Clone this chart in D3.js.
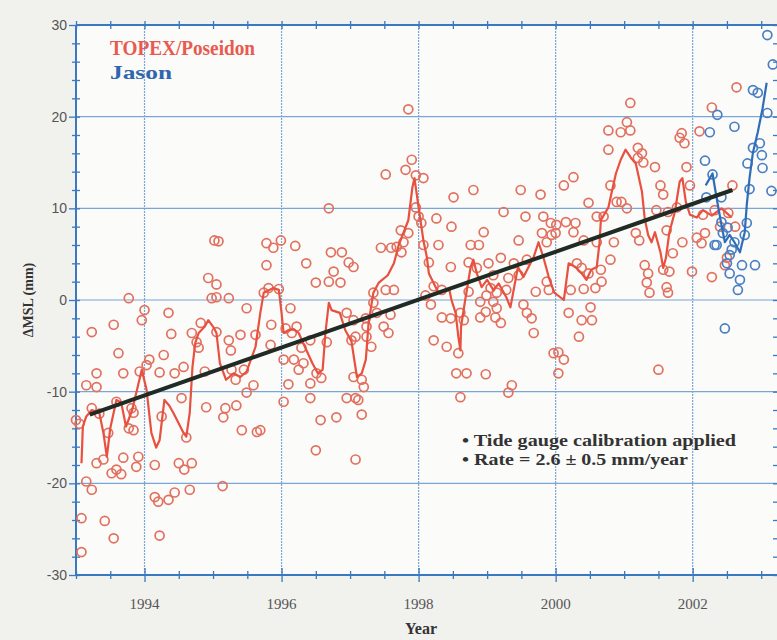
<!DOCTYPE html>
<html>
<head>
<meta charset="utf-8">
<script src="https://cdnjs.cloudflare.com/ajax/libs/d3/7.8.5/d3.min.js"></script>
<style>
  body { margin: 0; background: #f1f1ee; }
  svg { display: block; }
</style>
</head>
<body>
<div id="chart"></div>
<script>
// ---- data: [year, mm] ----
var topexPoints = [
  [1993.00,-13.1],[1993.05,-13.5],[1993.08,-23.8],[1993.08,-27.5],[1993.15,-9.3],[1993.15,-19.8],[1993.23,-11.8],[1993.23,-20.7],
  [1993.23,-3.5],[1993.30,-8.0],[1993.30,-9.5],[1993.30,-17.8],[1993.34,-12.4],[1993.40,-17.4],[1993.42,-24.1],[1993.47,-14.5],
  [1993.52,-18.9],[1993.55,-2.7],[1993.55,-26.0],[1993.59,-11.1],[1993.59,-18.5],[1993.62,-5.8],[1993.66,-19.0],[1993.69,-8.0],
  [1993.69,-17.2],[1993.77,0.2],[1993.77,-14.0],[1993.81,-11.8],[1993.84,-12.3],[1993.84,-14.2],[1993.88,-18.2],[1993.91,-17.1],
  [1993.93,-7.8],[1993.96,-2.2],
  [1994.00,-1.1],[1994.03,-7.1],[1994.07,-6.5],[1994.15,-18.0],[1994.15,-21.5],[1994.20,-22.0],[1994.22,-7.9],[1994.22,-25.7],
  [1994.25,-12.7],[1994.28,-6.0],[1994.35,-1.4],[1994.35,-21.8],[1994.39,-3.7],[1994.44,-8.0],[1994.44,-21.0],[1994.50,-17.8],
  [1994.54,-10.7],[1994.57,-7.3],[1994.58,-18.5],[1994.61,-15.0],[1994.66,-20.7],[1994.69,-3.6],[1994.69,-17.8],[1994.76,-4.6],
  [1994.79,-5.2],[1994.82,-2.5],[1994.88,-7.8],[1994.90,-11.7],[1994.93,2.4],[1994.98,0.2],
  [1995.02,6.5],[1995.05,1.7],[1995.05,0.3],[1995.05,-3.5],[1995.08,6.4],[1995.14,-20.3],[1995.15,-12.8],[1995.18,-11.8],
  [1995.23,0.2],[1995.23,-4.4],[1995.26,-5.5],[1995.27,-7.6],[1995.33,-8.7],[1995.34,-11.5],[1995.40,-3.8],[1995.42,-14.2],
  [1995.45,-7.6],[1995.49,-0.9],[1995.49,-10.1],[1995.59,-9.3],[1995.62,-3.8],[1995.64,-14.4],[1995.69,-14.2],[1995.74,0.8],
  [1995.78,6.2],[1995.78,3.8],[1995.81,1.3],[1995.84,-4.9],[1995.85,-2.7],[1995.88,5.7],[1995.96,1.2],[1995.99,6.5],
  [1996.03,-6.5],[1996.03,-11.1],[1996.06,-3.1],[1996.10,-9.2],[1996.13,-0.9],[1996.15,-3.6],[1996.18,-6.5],[1996.20,5.9],
  [1996.22,-2.9],[1996.25,-7.6],[1996.29,-5.2],[1996.32,-6.9],[1996.36,4.0],[1996.42,-4.4],[1996.42,-9.1],[1996.42,-10.7],
  [1996.50,1.9],[1996.50,-16.4],[1996.51,-8.0],[1996.57,-13.1],[1996.58,-8.5],[1996.66,-4.6],[1996.69,10.0],[1996.69,2.0],
  [1996.72,5.2],[1996.76,3.1],[1996.80,-12.8],[1996.86,1.9],[1996.88,5.2],[1996.95,-10.7],[1996.95,-1.4],[1996.98,4.1],
  [1997.02,-4.4],
  [1997.05,3.6],[1997.05,-2.2],[1997.05,-8.4],[1997.08,-4.0],[1997.08,-10.7],[1997.08,-17.4],[1997.12,-10.9],[1997.17,-8.7],
  [1997.17,-12.5],[1997.20,-9.5],[1997.23,-2.0],[1997.24,-2.9],[1997.24,-4.0],[1997.31,-5.1],[1997.34,0.8],[1997.34,-0.3],
  [1997.39,-1.4],[1997.45,5.7],[1997.49,-2.9],[1997.52,13.7],[1997.52,1.1],[1997.56,-3.6],[1997.59,-1.6],[1997.60,5.7],
  [1997.64,1.1],[1997.68,5.8],[1997.74,7.6],[1997.75,5.2],[1997.78,6.3],[1997.81,14.2],[1997.85,20.8],[1997.85,7.3],
  [1997.90,15.3],[1997.96,13.6],[1997.96,10.1],
  [1998.00,9.1],[1998.04,8.4],[1998.07,13.3],[1998.07,6.0],[1998.10,0.5],[1998.15,4.1],[1998.18,-0.5],[1998.22,1.5],
  [1998.22,-4.4],[1998.26,8.9],[1998.29,6.0],[1998.34,1.1],[1998.34,-1.9],[1998.41,-5.1],[1998.47,3.6],[1998.47,-2.0],
  [1998.48,8.0],[1998.51,11.2],[1998.55,-8.0],[1998.58,-5.8],[1998.61,-1.4],[1998.61,-10.6],[1998.66,-2.2],[1998.70,-8.0],
  [1998.73,4.1],[1998.73,0.9],[1998.76,6.0],[1998.80,12.0],[1998.85,3.5],[1998.88,6.0],[1998.90,-0.2],[1998.90,-1.9],
  [1998.95,7.4],[1998.98,-8.1],[1998.98,-1.3],[1998.99,0.5],
  [1999.02,4.0],[1999.05,1.3],[1999.09,-0.2],[1999.09,2.7],[1999.12,-1.9],[1999.14,0.8],[1999.14,-0.9],[1999.20,4.6],
  [1999.20,-2.5],[1999.24,9.6],[1999.28,1.1],[1999.31,2.4],[1999.31,-10.1],[1999.36,-9.3],[1999.39,4.0],[1999.46,2.7],
  [1999.46,6.5],[1999.49,12.0],[1999.53,-0.5],[1999.56,9.1],[1999.58,4.4],[1999.58,-1.4],[1999.65,-2.0],[1999.68,-3.6],
  [1999.71,0.9],[1999.78,11.5],[1999.80,7.3],[1999.82,9.1],[1999.87,2.0],[1999.87,6.3],[1999.90,1.1],[1999.93,8.4],
  [1999.94,7.1],[1999.97,-5.8],
  [2000.00,7.3],[2000.01,8.2],[2000.04,-5.7],[2000.04,-8.0],[2000.12,12.5],[2000.12,-6.5],[2000.15,8.5],[2000.19,-1.4],
  [2000.22,1.1],[2000.26,13.4],[2000.26,7.4],[2000.29,8.4],[2000.31,4.0],[2000.34,-4.0],[2000.38,3.5],[2000.38,-2.2],
  [2000.41,6.5],[2000.41,1.2],[2000.48,10.6],[2000.48,2.9],[2000.51,-0.8],[2000.53,-2.2],[2000.58,1.3],[2000.60,9.1],
  [2000.60,6.3],[2000.66,3.3],[2000.67,2.0],[2000.70,9.1],[2000.77,18.5],[2000.77,16.4],[2000.80,12.5],[2000.80,4.4],
  [2000.85,6.3],[2000.89,10.7],[2000.95,18.3],[2000.96,10.7],
  [2001.04,19.4],[2001.04,10.0],[2001.09,21.5],[2001.09,18.5],[2001.17,7.3],[2001.20,16.6],[2001.20,15.5],[2001.22,6.5],
  [2001.26,16.0],[2001.28,15.0],[2001.30,3.8],[2001.33,1.9],[2001.35,2.9],[2001.37,0.8],[2001.45,14.5],[2001.47,9.8],
  [2001.50,-7.6],[2001.53,12.5],[2001.57,11.5],[2001.57,3.3],[2001.62,7.6],[2001.62,1.4],[2001.64,9.6],[2001.64,0.8],
  [2001.66,3.1],[2001.71,5.1],[2001.77,10.1],[2001.81,17.7],[2001.84,18.2],[2001.85,6.3],[2001.88,17.1],[2001.91,14.5],
  [2001.96,12.5],[2001.99,3.1],
  [2002.06,6.8],[2002.10,18.4],[2002.13,6.2],[2002.15,9.3],[2002.18,7.3],[2002.28,21.0],[2002.28,2.5],[2002.32,9.8],
  [2002.40,8.0],[2002.47,3.8],[2002.50,4.6],[2002.52,9.5],[2002.58,12.5],[2002.62,8.0],[2002.64,23.2]
];

var topexSmooth = [
  [1993.08,-17.8],[1993.10,-13.8],[1993.15,-12.7],[1993.23,-12.0],[1993.34,-12.3],[1993.40,-14.5],[1993.45,-17.1],
  [1993.50,-14.0],[1993.59,-10.9],[1993.66,-11.2],[1993.73,-13.8],[1993.82,-12.0],[1993.90,-9.5],[1993.96,-7.6],
  [1994.03,-9.8],[1994.10,-14.5],[1994.17,-16.1],[1994.22,-15.3],[1994.29,-10.9],[1994.36,-11.5],[1994.42,-12.3],
  [1994.57,-14.5],[1994.61,-14.9],[1994.66,-12.3],[1994.70,-7.3],[1994.74,-4.7],[1994.79,-3.6],[1994.88,-2.9],
  [1994.93,-2.2],[1995.00,-2.9],[1995.05,-3.6],[1995.10,-6.9],[1995.19,-8.7],[1995.30,-8.0],[1995.40,-8.4],
  [1995.49,-7.8],[1995.62,-5.1],[1995.69,-1.4],[1995.74,0.8],[1995.88,1.3],[1995.96,1.1],[1996.00,-1.4],
  [1996.03,-3.6],[1996.10,-3.3],[1996.18,-3.2],[1996.25,-3.6],[1996.34,-5.1],[1996.45,-6.9],[1996.53,-8.0],
  [1996.60,-7.6],[1996.64,-3.6],[1996.69,-0.3],[1996.73,-1.1],[1996.85,-1.4],[1996.93,-3.3],[1997.02,-4.5],
  [1997.10,-8.4],[1997.17,-8.0],[1997.23,-6.5],[1997.27,-2.5],[1997.34,0.8],[1997.42,1.9],[1997.55,2.7],
  [1997.64,4.0],[1997.71,6.0],[1997.85,8.7],[1997.91,12.3],[1997.94,13.3],[1998.00,10.1],[1998.07,6.5],
  [1998.12,4.7],[1998.15,2.9],[1998.25,1.4],[1998.29,0.8],[1998.45,1.1],[1998.48,0.0],[1998.54,-1.4],
  [1998.58,-4.0],[1998.61,-5.5],[1998.62,-2.9],[1998.68,0.0],[1998.76,3.6],[1998.80,4.4],[1998.85,2.9],
  [1998.92,1.4],[1999.00,2.2],[1999.09,1.1],[1999.17,1.8],[1999.28,0.3],[1999.34,-0.8],[1999.45,3.6],
  [1999.53,2.5],[1999.68,4.7],[1999.75,6.3],[1999.82,4.7],[1999.90,2.5],[1999.98,0.8],[2000.12,0.0],
  [2000.19,4.0],[2000.29,3.6],[2000.38,2.9],[2000.45,2.2],[2000.52,3.3],[2000.60,3.6],[2000.64,6.2],
  [2000.66,8.7],[2000.77,10.1],[2000.82,11.8],[2000.88,13.8],[2000.95,15.3],[2001.02,16.4],[2001.10,15.5],
  [2001.17,14.9],[2001.26,11.8],[2001.30,8.9],[2001.35,7.1],[2001.40,6.3],[2001.45,7.4],[2001.53,5.2],
  [2001.57,3.5],[2001.61,4.6],[2001.66,7.4],[2001.74,9.6],[2001.81,12.9],[2001.85,13.3],[2001.90,10.7],
  [2001.96,9.3],[2002.06,9.0],[2002.15,9.8],[2002.28,9.2],[2002.42,10.0],[2002.57,9.0]
];

var jasonPoints = [
  [2002.18,15.2],[2002.20,11.2],[2002.25,18.3],[2002.29,13.7],[2002.32,6.0],[2002.35,6.0],[2002.36,20.2],[2002.42,11.2],
  [2002.42,8.5],[2002.44,7.3],[2002.47,-3.1],[2002.50,4.0],[2002.51,7.9],[2002.54,4.9],[2002.54,2.9],[2002.57,5.5],
  [2002.61,6.3],[2002.61,18.9],[2002.66,1.1],[2002.69,2.2],[2002.72,3.8],[2002.76,7.1],[2002.79,8.4],[2002.80,14.9],
  [2002.83,12.1],[2002.88,16.6],[2002.88,22.9],[2002.91,3.8],[2002.95,22.6],[2002.98,17.1],[2003.01,15.8],[2003.02,14.4],
  [2003.09,20.4],[2003.09,28.9],[2003.15,11.9],[2003.17,25.7]
];

var jasonSmooth = [
  [2002.19,12.5],[2002.29,13.8],[2002.35,11.1],[2002.42,8.2],[2002.47,6.3],[2002.54,7.1],[2002.61,6.3],[2002.69,5.2],
  [2002.76,7.4],[2002.79,10.4],[2002.83,13.3],[2002.88,16.1],[2002.95,18.3],[2003.02,20.9],[2003.08,23.7]
];

var trendLine = [[1993.2,-12.5],[2002.58,12.0]];

var yearLabels = [1994, 1996, 1998, 2000, 2002];
var mmLabels = [-30, -20, -10, 0, 10, 20, 30];
var notes = ["\u2022 Tide gauge calibration applied", "\u2022 Rate = 2.6 \u00b1 0.5 mm/year"];
var noteWidths = [274, 226];

// ---- layout ----
var W = 777, H = 640;
var plot = {left: 76, right: 779, top: 25, bottom: 575};

var svg = d3.select("#chart").append("svg")
  .attr("width", W).attr("height", H);

svg.append("rect")
  .attr("x", plot.left).attr("y", plot.top)
  .attr("width", plot.right - plot.left).attr("height", plot.bottom - plot.top)
  .attr("fill", "#fbfbf9");

var x = d3.scaleLinear().domain([1993, 2003.26]).range([plot.left, plot.right]);
var y = d3.scaleLinear().domain([-30, 30]).range([plot.bottom, plot.top]);

var axisBlue = "#3a78bf";
var gridBlue = "#7aa6d6";

// grid
svg.append("g").selectAll("line").data(yearLabels).enter().append("line")
  .attr("x1", d => x(d)).attr("x2", d => x(d))
  .attr("y1", plot.top).attr("y2", plot.bottom)
  .attr("stroke", gridBlue).attr("stroke-width", 1.2).attr("stroke-dasharray", "2,1");
svg.append("g").selectAll("line").data(mmLabels.slice(1, -1)).enter().append("line")
  .attr("x1", plot.left).attr("x2", plot.right)
  .attr("y1", d => y(d)).attr("y2", d => y(d))
  .attr("stroke", gridBlue).attr("stroke-width", 1.2);

// axes: ticks cross the frame, so draw the tick lines ourselves
var xTicks = d3.range(1993, 2003.3, 0.5);
var yTicks = d3.range(-30, 31, 2);

var gx = svg.append("g").attr("transform", "translate(0," + plot.bottom + ")")
  .call(d3.axisBottom(x).tickValues(xTicks).tickSize(0).tickFormat(""));
gx.select(".domain").remove();
gx.selectAll(".tick").append("line")
  .attr("y1", d => yearLabels.indexOf(d) >= 0 ? -7 : -4)
  .attr("y2", d => yearLabels.indexOf(d) >= 0 ? 7 : 4)
  .attr("stroke", axisBlue).attr("stroke-width", 1.3);

var gxt = svg.append("g").attr("transform", "translate(0," + plot.top + ")")
  .call(d3.axisTop(x).tickValues(xTicks).tickSize(0).tickFormat(""));
gxt.select(".domain").remove();
gxt.selectAll(".tick").append("line")
  .attr("y1", -4).attr("y2", 4)
  .attr("stroke", axisBlue).attr("stroke-width", 1.3);

var gy = svg.append("g").attr("transform", "translate(" + plot.left + ",0)")
  .call(d3.axisLeft(y).tickValues(yTicks).tickSize(0).tickFormat(""));
gy.select(".domain").remove();
gy.selectAll(".tick").append("line")
  .attr("x1", d => mmLabels.indexOf(d) >= 0 ? -7 : -4)
  .attr("x2", 4)
  .attr("stroke", axisBlue).attr("stroke-width", 1.3);

var gyr = svg.append("g").attr("transform", "translate(" + plot.right + ",0)")
  .call(d3.axisRight(y).tickValues(yTicks).tickSize(0).tickFormat(""));
gyr.select(".domain").remove();
gyr.selectAll(".tick").append("line")
  .attr("x1", -6).attr("x2", 2)
  .attr("stroke", axisBlue).attr("stroke-width", 1.3);

// frame lines
svg.append("line").attr("x1", plot.left).attr("x2", plot.right).attr("y1", plot.bottom).attr("y2", plot.bottom)
  .attr("stroke", axisBlue).attr("stroke-width", 2);
svg.append("line").attr("x1", plot.left).attr("x2", plot.right).attr("y1", plot.top).attr("y2", plot.top)
  .attr("stroke", axisBlue).attr("stroke-width", 2);
svg.append("line").attr("x1", plot.left).attr("x2", plot.left).attr("y1", plot.top).attr("y2", plot.bottom)
  .attr("stroke", axisBlue).attr("stroke-width", 2);

// tick labels
svg.append("g").selectAll("text").data(yearLabels).enter().append("text")
  .attr("x", d => x(d)).attr("y", plot.bottom + 34)
  .attr("text-anchor", "middle")
  .style("font-family", "'Liberation Serif', serif").style("font-size", "15px")
  .attr("fill", "#555")
  .text(d => d);

svg.append("g").selectAll("text").data(mmLabels).enter().append("text")
  .attr("x", plot.left - 9).attr("y", d => y(d) + 5)
  .attr("text-anchor", "end")
  .style("font-family", "'Liberation Sans', Arial, sans-serif").style("font-size", "14px")
  .attr("fill", "#555")
  .text(d => d);

// axis titles
svg.append("text")
  .attr("x", 421).attr("y", 634)
  .attr("text-anchor", "middle")
  .style("font-family", "'Liberation Serif', serif").style("font-size", "16px").style("font-weight", "bold")
  .attr("fill", "#333")
  .text("Year");

svg.append("text")
  .attr("transform", "translate(33,300) rotate(-90)")
  .attr("text-anchor", "middle")
  .style("font-family", "'Liberation Serif', serif").style("font-size", "14px").style("font-weight", "bold")
  .attr("fill", "#333")
  .text("\u0394MSL (mm)");

// data
var red = "#e8503f";
var blue = "#2f6db8";
var line = d3.line().x(d => x(d[0])).y(d => y(d[1]));

svg.append("g").selectAll("circle").data(topexPoints).enter().append("circle")
  .attr("cx", d => x(d[0])).attr("cy", d => y(d[1])).attr("r", 4.5)
  .attr("fill", "none").attr("stroke", "#e2705f").attr("stroke-width", 1.7);

svg.append("path").datum(topexSmooth)
  .attr("d", line).attr("fill", "none")
  .attr("stroke", red).attr("stroke-width", 2.2).attr("stroke-linejoin", "round");

svg.append("g").selectAll("circle").data(jasonPoints).enter().append("circle")
  .attr("cx", d => x(d[0])).attr("cy", d => y(d[1])).attr("r", 4.5)
  .attr("fill", "none").attr("stroke", "#4a7fc2").attr("stroke-width", 1.7);

svg.append("path").datum(jasonSmooth)
  .attr("d", line).attr("fill", "none")
  .attr("stroke", blue).attr("stroke-width", 2.2).attr("stroke-linejoin", "round");

svg.append("path").datum(trendLine)
  .attr("d", line).attr("fill", "none")
  .attr("stroke", "#1f2b24").attr("stroke-width", 4);

// legend
svg.append("text")
  .attr("x", 110).attr("y", 55)
  .attr("textLength", 145).attr("lengthAdjust", "spacingAndGlyphs")
  .style("font-family", "'Liberation Serif', serif").style("font-size", "20px").style("font-weight", "bold")
  .attr("fill", "#e85a50")
  .text("TOPEX/Poseidon");
svg.append("text")
  .attr("x", 110).attr("y", 79)
  .attr("textLength", 62).attr("lengthAdjust", "spacingAndGlyphs")
  .style("font-family", "'Liberation Serif', serif").style("font-size", "19px").style("font-weight", "bold")
  .attr("fill", "#2f66ad")
  .text("Jason");

// notes
svg.append("g").selectAll("text").data(notes).enter().append("text")
  .attr("x", 462).attr("y", (d, i) => 446 + i * 19)
  .attr("textLength", (d, i) => noteWidths[i]).attr("lengthAdjust", "spacingAndGlyphs")
  .style("font-family", "'Liberation Serif', serif").style("font-size", "17px").style("font-weight", "bold")
  .attr("fill", "#333")
  .text(d => d);
</script>
</body>
</html>
